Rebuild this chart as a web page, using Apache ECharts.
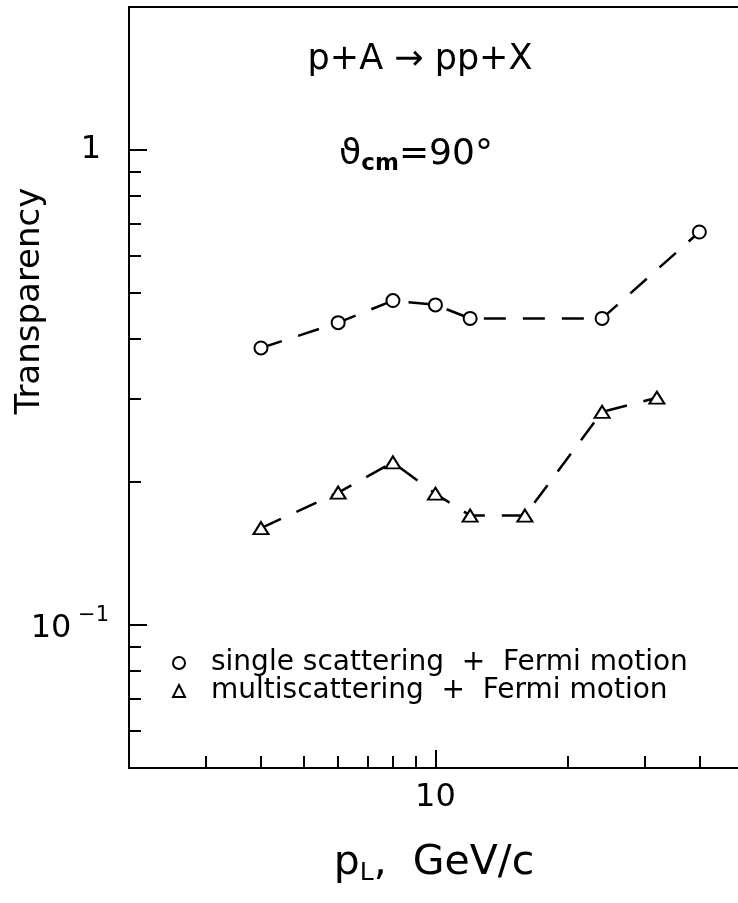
<!DOCTYPE html>
<html>
<head>
<meta charset="utf-8">
<script src="https://cdn.jsdelivr.net/npm/echarts@6/dist/echarts.min.js"></script>
<style>
  html, body { margin: 0; padding: 0; background: #fff; }
  #chart { width: 738px; height: 903px; }
</style>
</head>
<body>
<div id="chart"></div>
<script>
// p_L (GeV/c) and transparency
const pSingle = [4, 6, 8, 10, 12, 24, 40]
const tSingle = [0.383, 0.433, 0.482, 0.472, 0.442, 0.442, 0.672]
const pMulti = [4, 6, 8, 10, 12, 16, 24, 32]
const tMulti = [0.160, 0.190, 0.220, 0.189, 0.170, 0.170, 0.281, 0.301]

const seriesNames = ['single scattering  +  Fermi motion', 'multiscattering  +  Fermi motion']

const xMajorTicks = [10]
const xMinorTicks = [3, 4, 5, 6, 7, 8, 9, 20, 30, 40]
const yMajorTicks = [0.1, 1]
const yMinorTicks = [0.06, 0.07, 0.08, 0.09, 0.2, 0.3, 0.4, 0.5, 0.6, 0.7, 0.8, 0.9]

const FONT = '"DejaVu Sans", sans-serif'
const black = '#000'
const X_MIN = 2
const X_MAX = 49 // the frame runs just past the right edge of the page
const Y_MIN = 0.05
const Y_MAX = 2

function pairs(xs, ys) {
  return xs.map((x, i) => [x, ys[i]])
}

function logAxis(min, max, position, ticks, tickLen, labels) {
  return {
    type: 'log',
    logBase: 10,
    min: min,
    max: max,
    position: position,
    axisLine: { show: true, onZero: false, lineStyle: { color: black, width: 2 } },
    axisTick: {
      show: !!ticks,
      inside: true,
      length: tickLen,
      customValues: ticks || [],
      lineStyle: { color: black, width: 2 }
    },
    axisLabel: labels || { show: false },
    minorTick: { show: false },
    splitLine: { show: false }
  }
}

const chart = echarts.init(document.getElementById('chart'))

chart.setOption({
  animation: false,
  backgroundColor: '#fff',
  grid: {
    left: 129,
    right: 0,
    top: 7,
    bottom: 135
  },
  xAxis: [
    logAxis(X_MIN, X_MAX, 'bottom', xMajorTicks, 18, {
      customValues: xMajorTicks,
      formatter: () => '10',
      margin: 14,
      fontSize: 32,
      fontFamily: FONT,
      color: black
    }),
    logAxis(X_MIN, X_MAX, 'bottom', xMinorTicks, 12),
    // top frame line
    logAxis(X_MIN, X_MAX, 'top', null, 0)
  ],
  yAxis: [
    logAxis(Y_MIN, Y_MAX, 'left', yMajorTicks, 18, {
      customValues: yMajorTicks,
      margin: 20,
      color: black,
      fontFamily: FONT,
      formatter: v => (v > 0.5 ? '{one|1}' : '{b|10}{sup| −1}'),
      rich: {
        one: { fontSize: 32, fontFamily: FONT, color: black, padding: [0, 8, 0, 0] },
        b: { fontSize: 32, fontFamily: FONT, color: black, lineHeight: 40, verticalAlign: 'bottom' },
        sup: { fontSize: 21, fontFamily: FONT, color: black, lineHeight: 22, verticalAlign: 'top' }
      }
    }),
    logAxis(Y_MIN, Y_MAX, 'left', yMinorTicks, 12)
  ],
  legend: {
    orient: 'vertical',
    left: 167,
    top: 644,
    itemWidth: 12,
    itemHeight: 12,
    itemGap: 0,
    selectedMode: false,
    itemStyle: { borderWidth: 2 },
    textStyle: { fontSize: 28, fontFamily: FONT, color: black, padding: [0, 0, 0, 21] },
    data: [
      { name: seriesNames[0], icon: 'emptyCircle' },
      { name: seriesNames[1], icon: 'emptyTriangle' }
    ]
  },
  graphic: [
    {
      type: 'text',
      x: 420,
      y: 60,
      style: { text: 'p+A → pp+X', fontSize: 35, fontFamily: FONT, fill: black, align: 'center', verticalAlign: 'middle' }
    },
    {
      type: 'text',
      x: 416,
      y: 155,
      style: {
        text: '{t|ϑ}{s|cm}{t|=90°}',
        align: 'center',
        verticalAlign: 'middle',
        rich: {
          t: { fontSize: 36, fontFamily: FONT, fill: black, lineHeight: 42 },
          s: { fontSize: 23, fontFamily: FONT, fontWeight: 'bold', fill: black, lineHeight: 23, verticalAlign: 'bottom' }
        }
      }
    },
    {
      type: 'text',
      x: 30,
      y: 301,
      rotation: Math.PI / 2,
      style: { text: 'Transparency', fontSize: 34, fontFamily: FONT, fill: black, align: 'center', verticalAlign: 'middle' }
    },
    {
      type: 'text',
      x: 434,
      y: 863,
      style: {
        text: '{t|p}{s|L}{t|,  GeV/c}',
        align: 'center',
        verticalAlign: 'middle',
        rich: {
          t: { fontSize: 41, fontFamily: FONT, fill: black, lineHeight: 46 },
          s: { fontSize: 25, fontFamily: FONT, fill: black, lineHeight: 25, verticalAlign: 'bottom' }
        }
      }
    }
  ],
  series: [
    {
      name: seriesNames[0],
      type: 'line',
      xAxisIndex: 0,
      yAxisIndex: 0,
      data: pairs(pSingle, tSingle),
      symbol: 'emptyCircle',
      symbolSize: 13,
      itemStyle: { color: black, borderWidth: 2 },
      lineStyle: { color: black, width: 2.5, type: [22, 17] }
    },
    {
      name: seriesNames[1],
      type: 'line',
      xAxisIndex: 0,
      yAxisIndex: 0,
      data: pairs(pMulti, tMulti),
      symbol: 'emptyTriangle',
      symbolSize: [15, 12],
      itemStyle: { color: black, borderWidth: 2 },
      lineStyle: { color: black, width: 2.5, type: [22, 17] }
    }
  ]
})
</script>
</body>
</html>
